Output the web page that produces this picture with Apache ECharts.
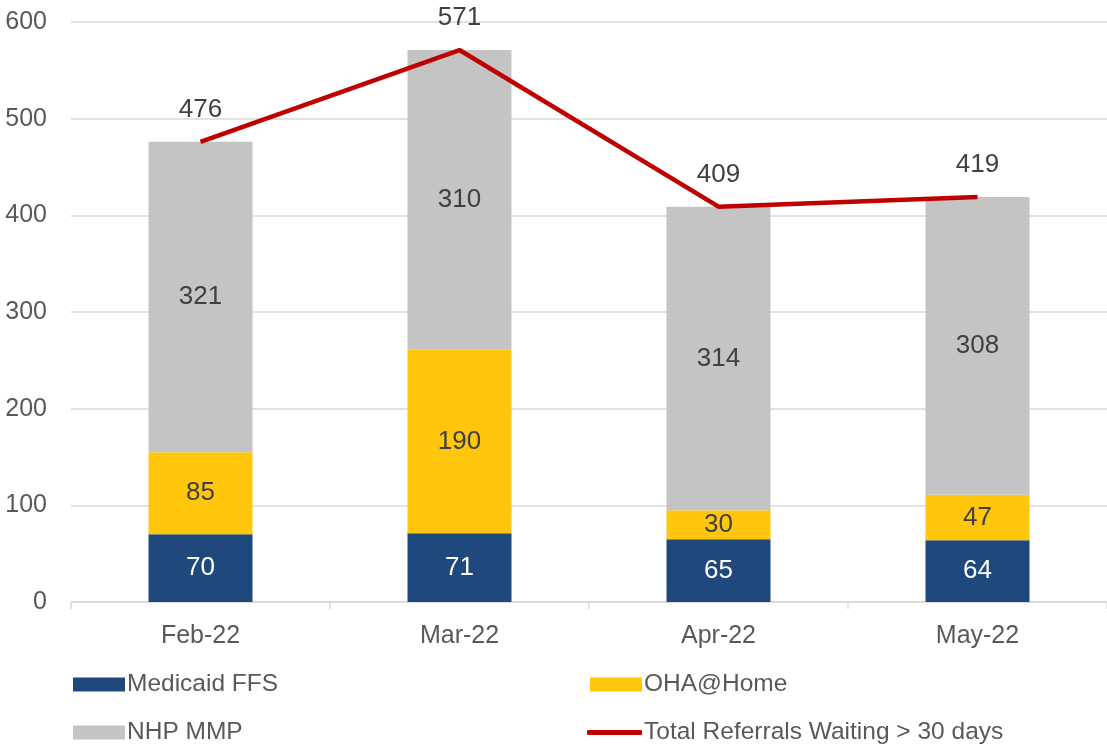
<!DOCTYPE html>
<html><head><meta charset="utf-8">
<script src="https://cdn.jsdelivr.net/npm/echarts@6/dist/echarts.min.js"></script>
<style>html,body{margin:0;padding:0;background:#fff}#c{width:1107px;height:744px}</style>
</head><body><div id="c"></div>
<script>
const categories = ['Feb-22', 'Mar-22', 'Apr-22', 'May-22'];
const medicaidFFS = [70, 71, 65, 64];
const ohaHome = [85, 190, 30, 47];
const nhpMMP = [321, 310, 314, 308];
const totalWaiting = [476, 571, 409, 419];
const yTicks = [0, 100, 200, 300, 400, 500, 600];

const FONT = '"Liberation Sans", Arial, sans-serif';
const chart = echarts.init(document.getElementById('c'));
const barLabel = (color) => ({show: true, position: 'inside', color: color, fontSize: 26, fontFamily: FONT});
function legendAt(name, left, top, icon, w, h) {
  return {data: [name], left: left, top: top, icon: icon, itemWidth: w, itemHeight: h, itemGap: 0,
    textStyle: {fontSize: 24.5, color: '#595959', fontFamily: FONT, padding: [0, 0, 0, -3]}, padding: 0};
}
chart.setOption({
  animation: false,
  grid: {left: 71, right: 0, top: 22, bottom: 142},
  legend: [
    legendAt('Medicaid FFS', 73, 672, 'rect', 52, 14),
    legendAt('OHA@Home', 590, 672, 'rect', 52, 14),
    legendAt('NHP MMP', 73, 720, 'rect', 52, 14),
    legendAt('Total Referrals Waiting > 30 days', 587, 720, 'roundRect', 55, 5)
  ],
  xAxis: {
    type: 'category', data: categories,
    axisLine: {lineStyle: {color: '#d9d9d9', width: 1.5}},
    axisTick: {show: true, length: 7, lineStyle: {color: '#d9d9d9', width: 1.5}},
    axisLabel: {fontSize: 25, color: '#595959', fontFamily: FONT, margin: 22}
  },
  yAxis: {
    type: 'value', min: yTicks[0], max: yTicks[yTicks.length - 1], interval: 100,
    axisLine: {show: false}, axisTick: {show: false},
    splitLine: {lineStyle: {color: '#d9d9d9', width: 1.5}},
    axisLabel: {fontSize: 25, color: '#595959', fontFamily: FONT, margin: 24}
  },
  series: [
    {name: 'Medicaid FFS', type: 'bar', stack: 's', data: medicaidFFS, barWidth: 104,
      itemStyle: {color: '#1f497d'}, label: barLabel('#ffffff')},
    {name: 'OHA@Home', type: 'bar', stack: 's', data: ohaHome,
      itemStyle: {color: '#ffc60b'}, label: barLabel('#404040')},
    {name: 'NHP MMP', type: 'bar', stack: 's', data: nhpMMP,
      itemStyle: {color: '#c4c4c4'}, label: barLabel('#404040')},
    {name: 'Total Referrals Waiting > 30 days', type: 'line', data: totalWaiting,
      symbol: 'circle', symbolSize: 0.01, showSymbol: true,
      lineStyle: {color: '#c00000', width: 4.5}, itemStyle: {color: '#c00000'},
      label: {show: true, position: 'top', distance: 19, fontSize: 26, color: '#404040', fontFamily: FONT}}
  ]
});
</script></body></html>
